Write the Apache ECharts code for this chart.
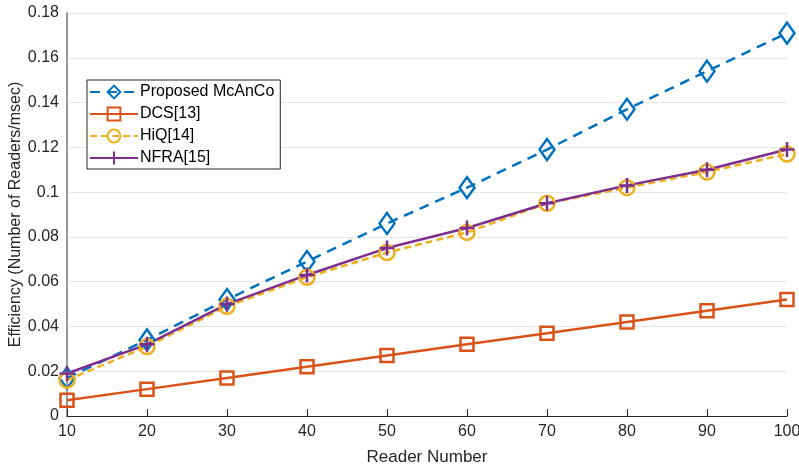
<!DOCTYPE html>
<html>
<head>
<meta charset="utf-8">
<script src="https://cdn.jsdelivr.net/npm/echarts@6/dist/echarts.min.js"></script>
<style>
  html, body { margin: 0; padding: 0; background: #fff; }
  #chart { width: 799px; height: 470px; }
</style>
</head>
<body>
<div id="chart"></div>
<script>
// reader counts on the x axis
var readers = [10, 20, 30, 40, 50, 60, 70, 80, 90, 100];
// efficiency values
var proposed = [0.017, 0.034, 0.052, 0.069, 0.086, 0.102, 0.119, 0.137, 0.154, 0.171];
var dcs      = [0.007, 0.012, 0.017, 0.022, 0.027, 0.032, 0.037, 0.042, 0.047, 0.052];
var hiq      = [0.016, 0.031, 0.049, 0.062, 0.073, 0.082, 0.095, 0.102, 0.109, 0.117];
var nfra     = [0.019, 0.032, 0.050, 0.063, 0.075, 0.084, 0.095, 0.103, 0.110, 0.119];
var names    = ['Proposed McAnCo', 'DCS[13]', 'HiQ[14]', 'NFRA[15]'];

function pairs(ys) {
  return readers.map(function (x, i) { return [x, ys[i]]; });
}

var font = '"Liberation Sans", Arial, sans-serif';
var axisColor = '#262626';

function line(name, ys, color, symbol, size, dash) {
  return {
    name: name,
    type: 'line',
    data: pairs(ys),
    symbol: symbol,
    symbolSize: size,
    showAllSymbol: true,
    lineStyle: { color: color, width: 2.5, type: dash },
    itemStyle: { color: 'transparent', borderColor: color, borderWidth: 2.5 },
    emphasis: { disabled: true },
    z: 3
  };
}

var chart = echarts.init(document.getElementById('chart'));
chart.setOption({
  animation: false,
  textStyle: { fontFamily: font },
  grid: { left: 67, right: 12, top: 13, bottom: 54, containLabel: false, outerBoundsMode: 'none' },
  legend: {
    orient: 'vertical',
    left: 87,
    top: 80,
    padding: [4, 6, 3, 2],
    itemGap: 6,
    itemWidth: 48,
    itemHeight: 16,
    backgroundColor: '#fff',
    borderColor: '#262626',
    borderWidth: 1,
    borderRadius: 0,
    textStyle: { fontSize: 16, color: '#000', fontFamily: font, padding: [0, 0, 0, -3] },
    data: names
  },
  xAxis: {
    type: 'value',
    min: 10,
    max: 100,
    interval: 10,
    name: 'Reader Number',
    nameLocation: 'middle',
    nameGap: 33,
    nameTextStyle: { fontSize: 17, color: axisColor },
    axisLine: { onZero: false, lineStyle: { color: axisColor, width: 1 } },
    axisTick: { inside: true, length: 7, lineStyle: { color: axisColor } },
    axisLabel: { fontSize: 16, color: axisColor, margin: 8 },
    splitLine: { show: false }
  },
  yAxis: {
    type: 'value',
    min: 0,
    max: 0.18,
    interval: 0.02,
    name: 'Efficiency (Number of Readers/msec)',
    nameLocation: 'middle',
    nameGap: 43,
    nameMoveOverlap: false,
    nameTextStyle: { fontSize: 16, color: axisColor },
    axisLine: { show: true, lineStyle: { color: '#777', width: 1.5 } },
    axisTick: { show: false },
    axisLabel: { fontSize: 16, color: axisColor, margin: 8 },
    splitLine: { show: true, lineStyle: { color: '#e6e6e6', width: 1 } }
  },
  series: [
    line(names[0], proposed, '#0072BD', 'diamond', [15, 21], [10, 7]),
    line(names[1], dcs, '#D95319', 'rect', 13, 'solid'),
    line(names[2], hiq, '#EDB120', 'circle', 15, [7, 4]),
    line(names[3], nfra, '#7E2F8E', 'path://M0,-1L0,1M-1,0L1,0', 15, 'solid')
  ]
});
</script>
</body>
</html>
